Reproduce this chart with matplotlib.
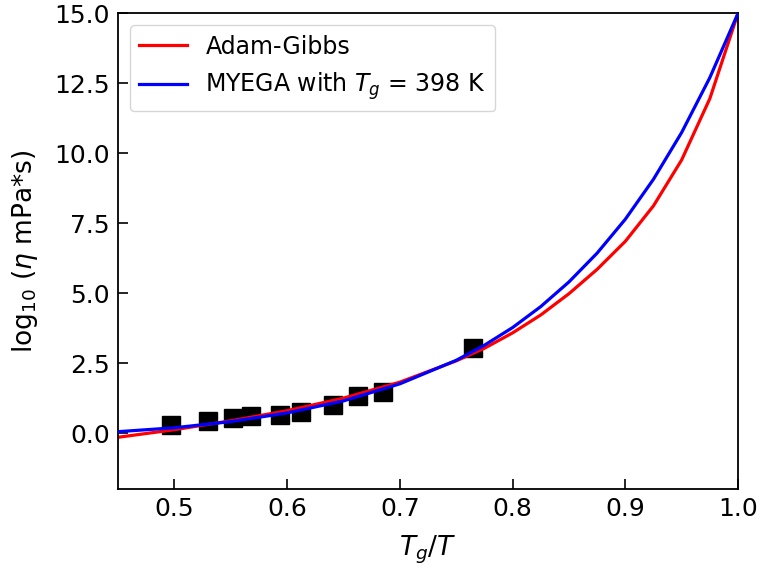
import matplotlib
matplotlib.use("Agg")
import matplotlib.pyplot as plt

# measured points (Tg/T, log10 viscosity)
x_data = [0.497, 0.530, 0.552, 0.568, 0.594, 0.612, 0.641, 0.663, 0.685, 0.765]
y_data = [0.28, 0.44, 0.53, 0.62, 0.65, 0.76, 1.02, 1.34, 1.45, 3.05]

# curves
x_curve = [0.45, 0.50, 0.55, 0.60, 0.65, 0.70, 0.75, 0.775, 0.80, 0.825,
           0.85, 0.875, 0.90, 0.925, 0.95, 0.975, 1.0]
y_ag = [-0.15, 0.12, 0.44, 0.80, 1.25, 1.82, 2.58, 3.03, 3.58, 4.22,
        4.98, 5.85, 6.85, 8.12, 9.76, 11.95, 15.0]
y_myega = [0.05, 0.19, 0.41, 0.72, 1.15, 1.76, 2.60, 3.14, 3.77, 4.52,
           5.40, 6.43, 7.64, 9.07, 10.74, 12.70, 15.0]

fig = plt.figure(figsize=(7.62, 5.68), dpi=100)
ax = fig.add_axes([0.155, 0.139, 0.8135, 0.8376])

ax.plot(x_data, y_data, 's', color='black', markersize=13, zorder=1)
ax.plot(x_curve, y_ag, color='red', lw=2.3, label='Adam-Gibbs', zorder=2)
ax.plot(x_curve, y_myega, color='blue', lw=2.3, label=r'MYEGA with $T_g$ = 398 K', zorder=3)

ax.set_xlim(0.45, 1.0)
ax.set_ylim(-2, 15)
ax.set_xticks([0.5, 0.6, 0.7, 0.8, 0.9, 1.0])
ax.set_yticks([0.0, 2.5, 5.0, 7.5, 10.0, 12.5, 15.0])
ax.tick_params(direction='in', length=7, width=1.2, labelsize=18, pad=6)
for s in ax.spines.values():
    s.set_linewidth(1.3)

ax.set_xlabel(r'$T_g/T$', fontsize=19, labelpad=9)
ax.set_ylabel(r'log$_{10}$ ($\eta$ mPa*s)', fontsize=19, labelpad=10)
ax.legend(loc='upper left', fontsize=17, handlelength=2.0)

fig.savefig('out.png', dpi=100)
